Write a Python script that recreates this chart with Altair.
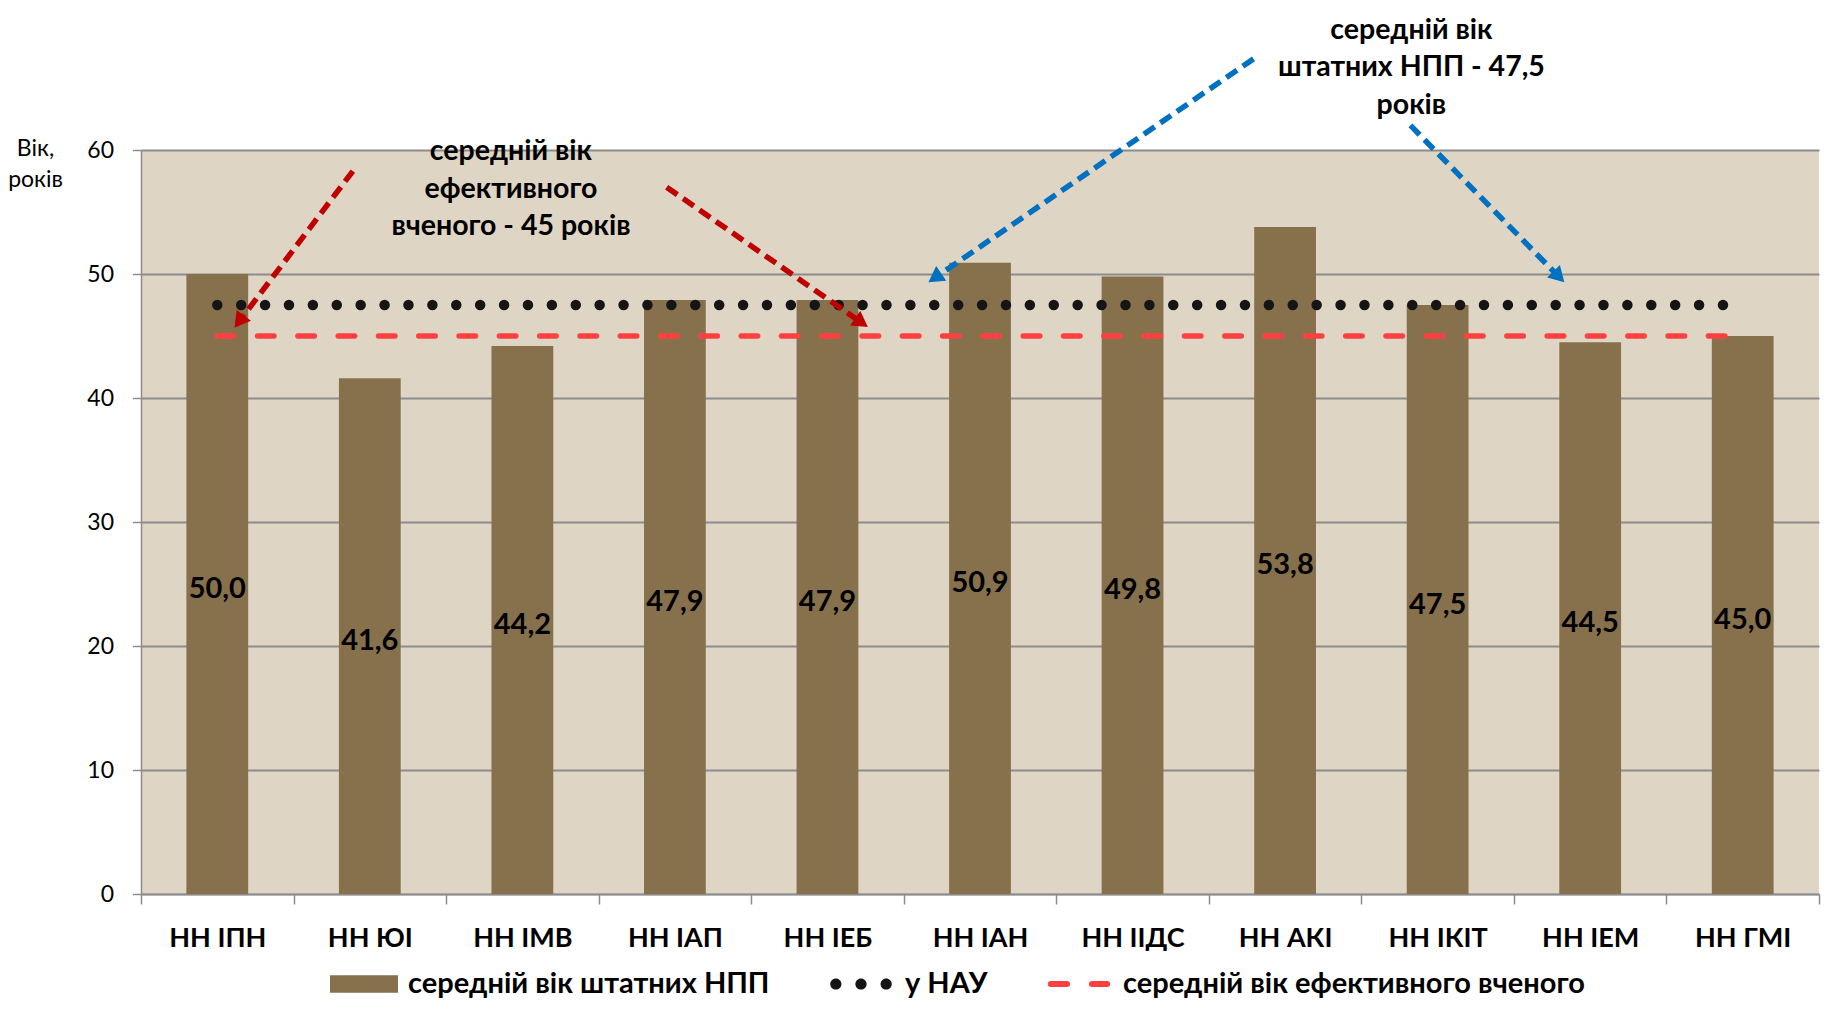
import math
import altair as alt
import pandas as pd

# ---------------- data ----------------
categories = ["НН ІПН", "НН ЮІ", "НН ІМВ", "НН ІАП", "НН ІЕБ", "НН ІАН",
              "НН ІІДС", "НН АКІ", "НН ІКІТ", "НН ІЕМ", "НН ГМІ"]
avg_age = [50.0, 41.6, 44.2, 47.9, 47.9, 50.9, 49.8, 53.8, 47.5, 44.5, 45.0]

series_names = ["середній вік штатних НПП", "у НАУ", "середній вік ефективного вченого"]
nau_avg = [47.5, 47.5]
eff_avg = [45.0, 45.0]
line_x = [0.0, 9.9]          # category-index positions where the two mean lines start / end

# annotation arrows (category-index x, age y)
red_arrow_x = [0.889, 2.946]
red_arrow_y = [58.3, 57.0]
red_arrow_x2 = [0.114, 4.263]
red_arrow_y2 = [45.69, 45.74]
blue_arrow_x = [6.793, 7.822]
blue_arrow_y = [67.35, 61.98]
blue_arrow_x2 = [4.664, 8.829]
blue_arrow_y2 = [49.35, 49.35]

note_text = ["середній вік\nштатних НПП - 47,5\nроків", "середній вік\nефективного\nвченого - 45 років"]
note_x = [7.828, 1.925]
note_y = [69.7, 59.9]

# ---------------- styling ----------------
W, H = 1678, 744
BAR = "#87714D"
BG = "#DED5C4"
GRID = "#8C8C8C"
DOT = "#151515"
RED = "#FF4040"
DARKRED = "#C00000"
BLUE = "#0070C0"
FONT = "Lato"

px_x = W / 11.0
px_y = H / 60.0

xq_scale = alt.Scale(domain=[-0.5, 10.5], nice=False, zero=False)
y_scale = alt.Scale(domain=[0, 60], nice=False)
cat_scale = alt.Scale(domain=categories, paddingInner=0, paddingOuter=0)
color_scale = alt.Scale(domain=series_names, range=[BAR, DOT, RED])

rect_path = "M-1,-0.26H1V0.26H-1Z"
def circ(cx, r):
    return f"M{cx - r},0A{r},{r} 0 1,0 {cx + r},0A{r},{r} 0 1,0 {cx - r},0Z"
dots_path = " ".join(circ(c, 0.165) for c in (-0.74, 0.0, 0.74))
def pill(a, b, h):
    return f"M{a},{-h}H{b}A{h},{h} 0 0,1 {b},{h}H{a}A{h},{h} 0 0,1 {a},{-h}Z"
dash_path = pill(-0.83, -0.35, 0.09) + " " + pill(0.38, 0.83, 0.09)
shape_scale = alt.Scale(domain=series_names, range=[rect_path, dots_path, dash_path])

bars_df = pd.DataFrame({"category": categories, "age": avg_age})

x_axis = alt.Axis(title=None, labelAngle=0, tickBand="extent", tickSize=10,
                  labelFontSize=27, labelFontWeight="bold", labelColor="black",
                  labelPadding=21, labelFont=FONT, grid=False, domainColor=GRID,
                  tickColor=GRID, domainWidth=1.5, tickWidth=1.5)
y_axis = alt.Axis(values=[0, 10, 20, 30, 40, 50, 60], title=["Вік,", "років"],
                  titleAngle=0, titleX=-106, titleY=-2, titleAlign="center",
                  titleBaseline="middle", titleFontSize=23, titleFontWeight="normal",
                  titleLineHeight=31, titleFont=FONT, titleColor="black",
                  labelFontSize=23, labelFont=FONT, labelColor="black", labelPadding=19,
                  tickSize=8.5, tickColor=GRID, tickWidth=1.5, domainColor=GRID, domainWidth=1.5,
                  grid=True, gridColor=GRID, gridWidth=2)


def Y(field):
    return alt.Y(field, scale=y_scale, axis=y_axis)


bars = alt.Chart(bars_df).mark_bar(width=alt.RelativeBandSize(0.405), color=BAR).encode(
    x=alt.X("category:N", sort=categories, scale=cat_scale, axis=x_axis),
    y=Y("age:Q"),
)

labels = alt.Chart(bars_df).transform_calculate(
    mid="datum.age / 2",
    label="replace(format(datum.age, '.1f'), '.', ',')",
).mark_text(font=FONT, fontSize=29, fontWeight="bold", color="black", baseline="middle",
            dy=5).encode(
    x=alt.X("category:N", sort=categories, scale=cat_scale, axis=None),
    y=Y("mid:Q"),
    text="label:N",
)

eff_df = pd.DataFrame({"x": line_x, "y": eff_avg})
nau_df = pd.DataFrame({"x": line_x, "y": nau_avg})

eff_line = alt.Chart(eff_df).mark_line(color=RED, strokeDash=[16.5, 23.8], strokeCap="round",
                                       strokeWidth=5.5).encode(
    x=alt.X("x:Q", scale=xq_scale, axis=None),
    y=Y("y:Q"),
)
nau_line = alt.Chart(nau_df).mark_line(color=DOT, strokeDash=[0, 23.9], strokeCap="round",
                                       strokeWidth=10.5).encode(
    x=alt.X("x:Q", scale=xq_scale, axis=None),
    y=Y("y:Q"),
)


def arrow_frame(xs, ys, x2s, y2s):
    rows = []
    back = 7.4
    for x1, y1, x2, y2 in zip(xs, ys, x2s, y2s):
        dxp = (x2 - x1) * px_x
        dyp = -(y2 - y1) * px_y
        L = math.hypot(dxp, dyp)
        ux, uy = dxp / L, dyp / L
        ang = math.degrees(math.atan2(ux, -uy)) % 360
        hx = x2 - ux * back / px_x
        hy = y2 + uy * back / px_y
        rows.append({"x": x1, "y": y1, "hx": hx, "hy": hy, "angle": ang})
    return pd.DataFrame(rows)


def arrow_layers(df, color):
    rule = alt.Chart(df).mark_rule(color=color, strokeWidth=5.5, strokeDash=[13, 7]).encode(
        x=alt.X("x:Q", scale=xq_scale, axis=None),
        y=Y("y:Q"),
        x2="hx:Q", y2="hy:Q",
    )
    head = alt.Chart(df).mark_point(shape="triangle-up", filled=True, size=320, color=color,
                                    opacity=1, strokeWidth=0).encode(
        x=alt.X("hx:Q", scale=xq_scale, axis=None),
        y=Y("hy:Q"),
        angle=alt.Angle("angle:Q", scale=None),
    )
    return [rule, head]


red_df = arrow_frame(red_arrow_x, red_arrow_y, red_arrow_x2, red_arrow_y2)
blue_df = arrow_frame(blue_arrow_x, blue_arrow_y, blue_arrow_x2, blue_arrow_y2)

notes_df = pd.DataFrame({"text": note_text, "x": note_x, "y": note_y})
notes = alt.Chart(notes_df).mark_text(font=FONT, fontSize=28.5, fontWeight="bold", color="black",
                                      lineBreak="\n", lineHeight=37.5, align="center",
                                      baseline="middle").encode(
    x=alt.X("x:Q", scale=xq_scale, axis=None),
    y=Y("y:Q"),
    text="text:N",
)

legend_df = pd.DataFrame({"series": series_names})
leg = alt.Legend(title=None, orient="none", legendX=189, legendY=800, direction="horizontal",
                 symbolSize=4624, symbolOpacity=1, symbolStrokeWidth=0,
                 labelFont=FONT, labelFontSize=29, labelFontWeight="bold", labelColor="black",
                 labelLimit=800, labelOffset=10, columnPadding=57, padding=0)
legend_layer = alt.Chart(legend_df).mark_point(filled=True, opacity=0).encode(
    x=alt.value(0), y=alt.value(0),
    color=alt.Color("series:N", scale=color_scale, legend=leg),
    shape=alt.Shape("series:N", scale=shape_scale, legend=leg),
)

chart = alt.layer(
    bars, labels, eff_line, nau_line,
    *arrow_layers(red_df, DARKRED), *arrow_layers(blue_df, BLUE),
    notes, legend_layer,
).resolve_scale(x="independent").properties(
    width=W, height=H,
    padding={"left": 133, "top": 142, "right": 2, "bottom": 106},
    autosize=alt.AutoSizeParams(type="none"),
).configure(font=FONT).configure_view(fill=BG, stroke=None)

chart.save("out.html", embed_options={"renderer": "svg", "actions": False})
